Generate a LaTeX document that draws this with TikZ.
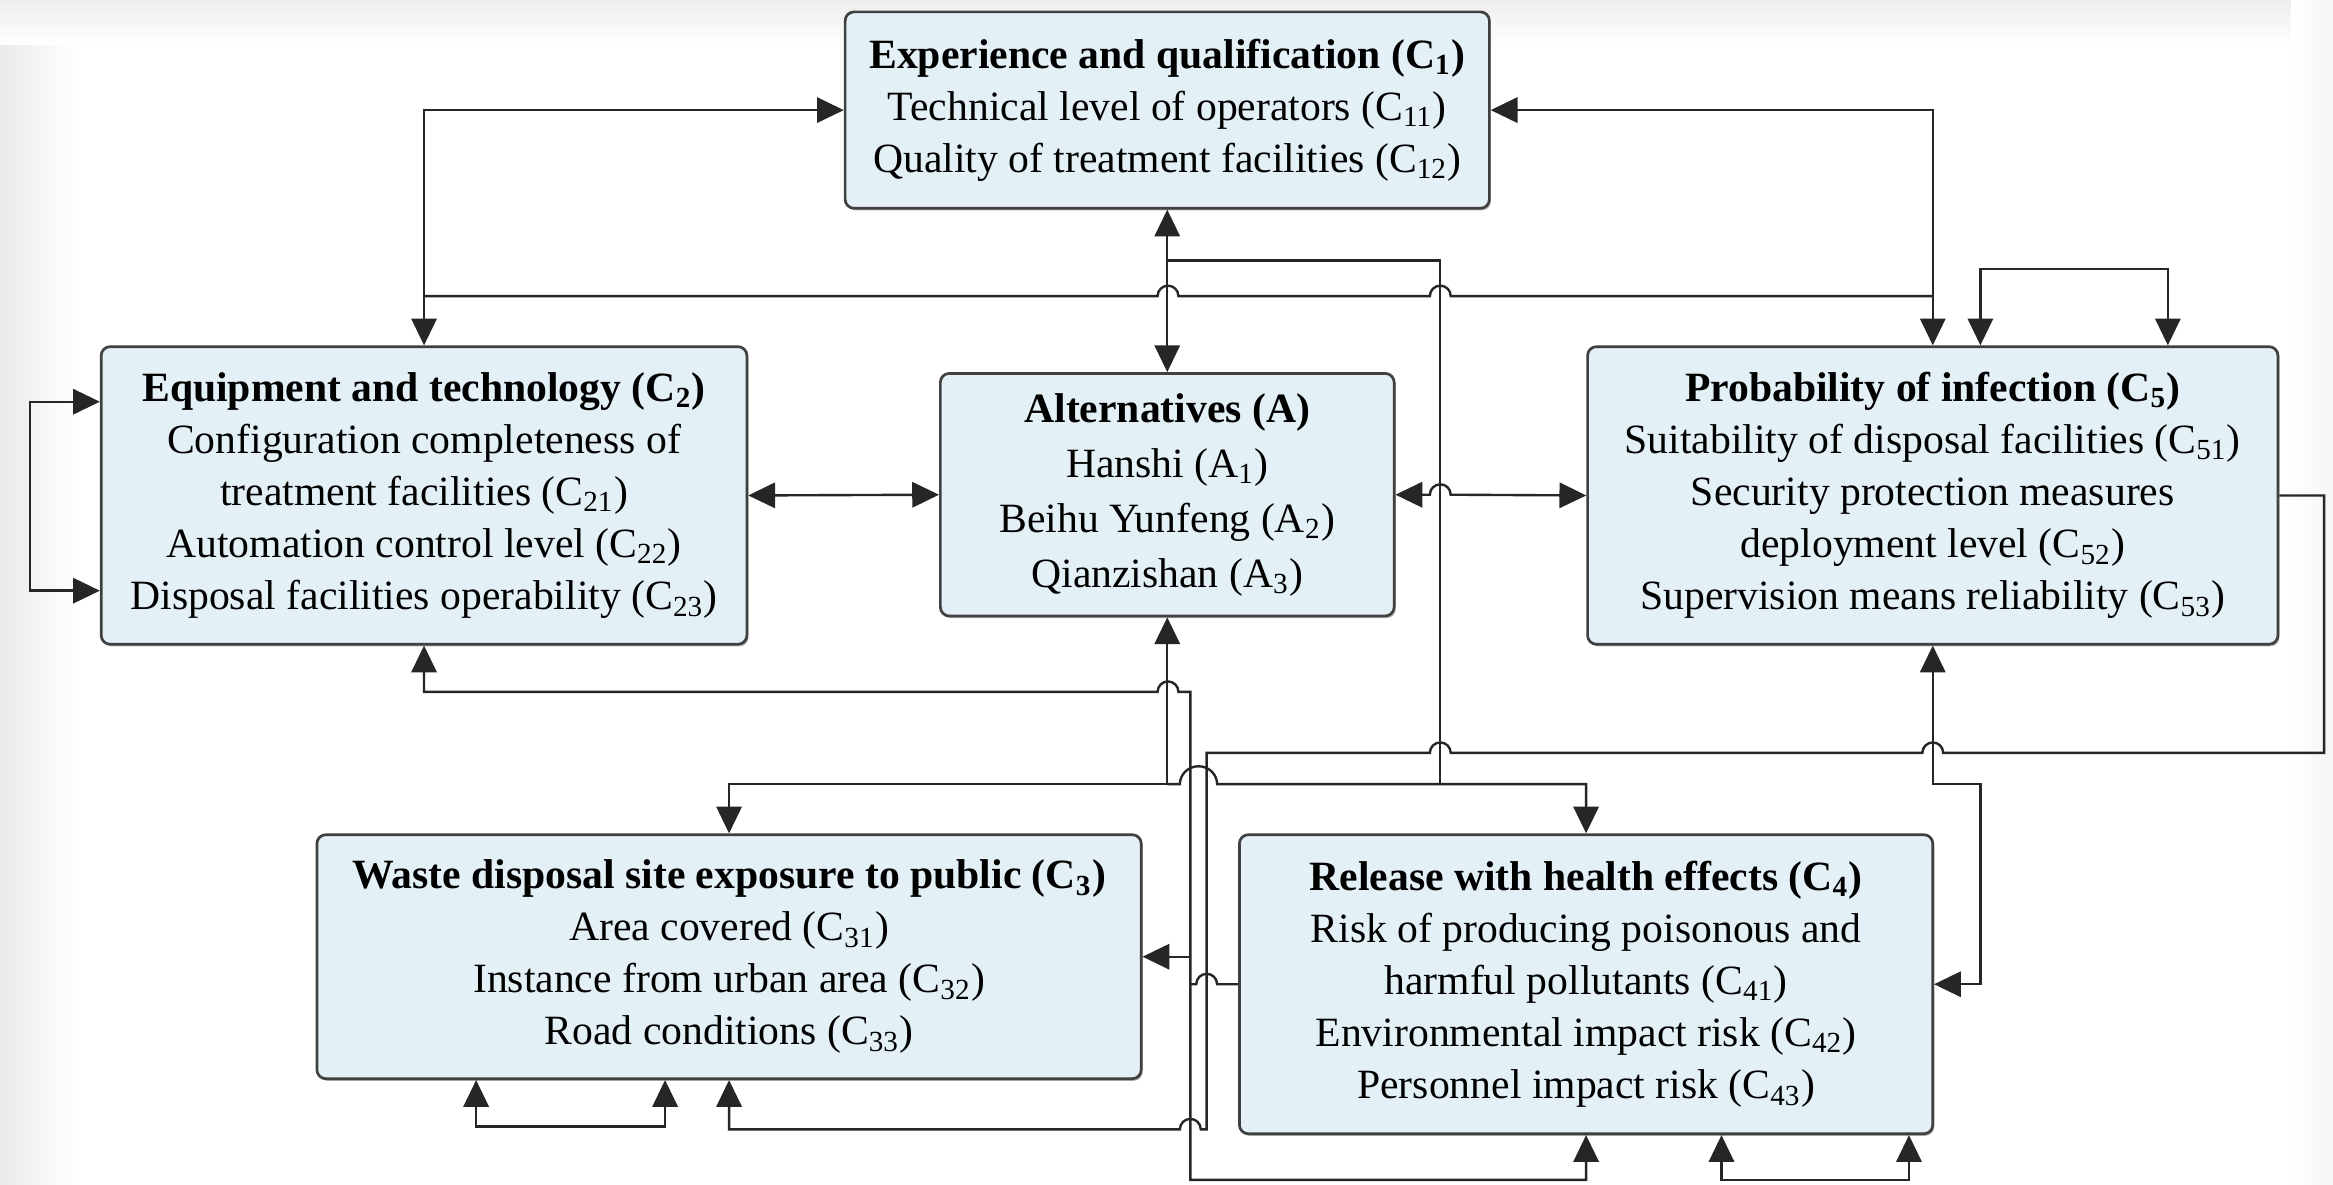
\documentclass[tikz,border=0pt]{standalone}
\usepackage{fontspec}
\setmainfont{Liberation Serif}
\usetikzlibrary{arrows.meta,shadows}
\definecolor{boxblue}{HTML}{E3F0F6}
\definecolor{linegray}{HTML}{262626}
\newcommand{\hopr}{arc[start angle=180,end angle=0,radius=3.5pt]}
\newcommand{\hopl}{arc[start angle=0,end angle=180,radius=3.5pt]}
\begin{document}
\begin{tikzpicture}[x=0.5pt,y=-0.5pt,>={Triangle[length=9pt,width=8.5pt]},
   box/.style={draw=black!75, fill=boxblue, rounded corners=3pt, line width=0.9pt, align=center, inner sep=0pt,
      font=\fontsize{14}{17.5}\selectfont, drop shadow={shadow xshift=0.5pt,shadow yshift=-0.7pt,fill=black!60,opacity=0.5}},
   link/.style={draw=linegray, line width=0.8pt}]
         \useasboundingbox (0,0) rectangle (1568,796);
         \fill[white] (0,0) rectangle (1568,796);
         \shade[left color=gray!16, right color=white] (0,0) rectangle (52,796);
         \shade[top color=gray!14, bottom color=white] (0,0) rectangle (1568,30);
         \shade[left color=white, right color=gray!8] (1540,0) rectangle (1568,796);
         \node[box, minimum width=216.5pt, minimum height=66pt] (c1) at (784.5,74) {\textbf{Experience and qualification (C\textsubscript{1})}\\Technical level of operators (C\textsubscript{11})\\Quality of treatment facilities (C\textsubscript{12})};
         \node[box, minimum width=217pt, minimum height=100pt] (c2) at (285,333) {\textbf{Equipment and technology (C\textsubscript{2})}\\Configuration completeness of\\treatment facilities (C\textsubscript{21})\\Automation control level (C\textsubscript{22})\\Disposal facilities operability (C\textsubscript{23})};
         \node[box, minimum width=152.5pt, minimum height=81.5pt, font=\fontsize{14}{18.5}\selectfont] (a) at (784.5,332.5) {\textbf{Alternatives (A)}\\Hanshi (A\textsubscript{1})\\Beihu Yunfeng (A\textsubscript{2})\\Qianzishan (A\textsubscript{3})};
         \node[box, minimum width=232pt, minimum height=100pt] (c5) at (1299,333) {\textbf{Probability of infection (C\textsubscript{5})}\\Suitability of disposal facilities (C\textsubscript{51})\\Security protection measures\\deployment level (C\textsubscript{52})\\Supervision means reliability (C\textsubscript{53})};
         \node[box, minimum width=277pt, minimum height=82pt] (c3) at (490,643) {\textbf{Waste disposal site exposure to public (C\textsubscript{3})}\\Area covered (C\textsubscript{31})\\Instance from urban area (C\textsubscript{32})\\Road conditions (C\textsubscript{33})};
         \node[box, minimum width=233pt, minimum height=100.5pt] (c4) at (1066,661.5) {\textbf{Release with health effects (C\textsubscript{4})}\\Risk of producing poisonous and\\harmful pollutants (C\textsubscript{41})\\Environmental impact risk (C\textsubscript{42})\\Personnel impact risk (C\textsubscript{43})};
         \draw[link,<->] (c1.west) -| (c2.north);
         \draw[link,<->] (c1.east) -| (c5.north);
         \draw[link] (c2.north |- 0,199) -- (778,199) \hopr -- (961,199) \hopr -- (c5.north |- 0,199);
         \draw[link,<->] (c1.south) -- (a.north);
         \draw[link] (c1.south |- 0,175) -| (968,527);
         \draw[link,<->] (a.south) -- (a.south |- 0,527) -| (c3.north);
         \draw[link,->] (a.south |- 0,527) -- (793,527) arc[start angle=180,end angle=0,x radius=6.25pt,y radius=6pt] -- (968,527) -| (c4.north);
         \draw[link,<->] (c2.south) |- (778,465) \hopr -- (800,465) -- (800,793) -| (c4.south);
         \draw[link,->] (800,643) -- (c3.east);
         \draw[link] (c4.west) -- (818,661.5) \hopl -- (800,661.5);
         \draw[link,->] (c5.east) -- (1562,333) -- (1562,506) -- (1306,506) \hopl -- (975,506) \hopl -- (811,506) -- (811,759) -- (807,759) \hopl -| (c3.south);
         \draw[link,<->] (c5.south) |- (1331,527) |- (c4.east);
         \draw[link,<->] (a.east) -- (961,332.5) \hopr -- (c5.west);
         \draw[link,<->] (c2.east) -- (a.west);
         \draw[link,<->] (c2.west |- 0,270) -| (20,397) -- (c2.west |- 0,397);
         \draw[link,<->] (c5.north -| 1331,0) |- (1457,181) -- (c5.north -| 1457,0);
         \draw[link,<->] (c3.south -| 320,0) |- (447,757) -- (c3.south -| 447,0);
         \draw[link,<->] (c4.south -| 1157,0) |- (1283,793) -- (c4.south -| 1283,0);
\end{tikzpicture}
\end{document}
